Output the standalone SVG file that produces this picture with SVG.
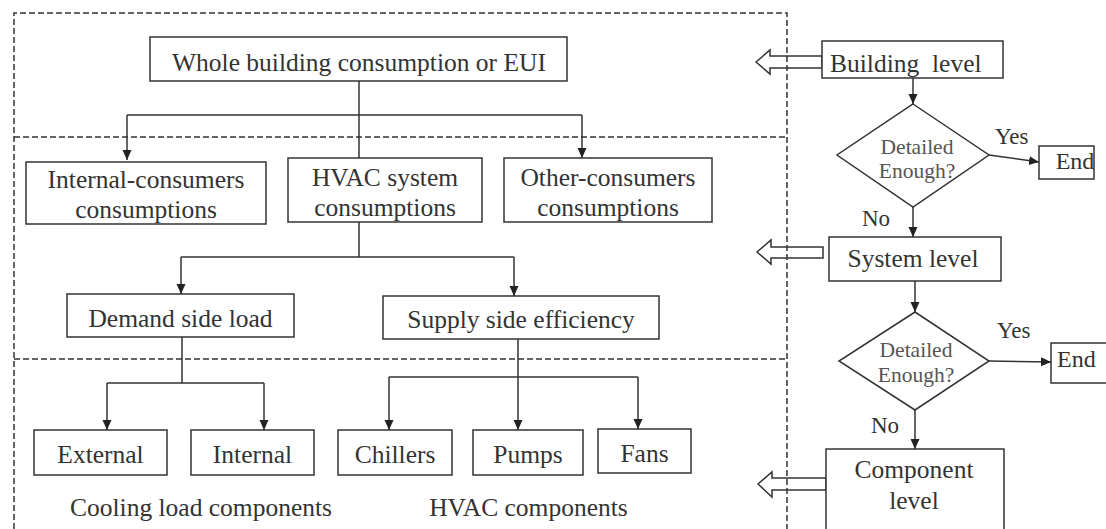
<svg xmlns="http://www.w3.org/2000/svg" width="1106" height="529" viewBox="0 0 1106 529">
<style>
.box{fill:#fff;stroke:#333;stroke-width:1.5}
.t{font-family:"Liberation Serif","Times New Roman",serif;font-size:25.5px;fill:#333;text-anchor:middle}
.s{font-family:"Liberation Serif","Times New Roman",serif;font-size:21.5px;fill:#555;text-anchor:middle}
.l{font-family:"Liberation Serif","Times New Roman",serif;font-size:23px;fill:#333}
.c{fill:none;stroke:#333;stroke-width:1.5}
.d{fill:none;stroke:#333;stroke-width:1.5;stroke-dasharray:6,3}
.h{fill:#fff;stroke:#333;stroke-width:1.5}
</style>
<defs>
<marker id="ah" markerUnits="userSpaceOnUse" markerWidth="10" markerHeight="10" refX="10" refY="5" orient="auto">
<path d="M0,0.5 L10,5 L0,9.5 z" fill="#222"/>
</marker>
</defs>
<rect width="1106" height="529" fill="#fff"/>

<g id="hollow-arrows">
<polygon class="h" points="756,62 770,50 770,56 822,56 822,68 770,68 770,74"/>
<polygon class="h" points="757,252 771,240 771,247 823,247 823,258 771,258 771,264"/>
<polygon class="h" points="758,484 772,472 772,478 826,478 826,490 772,490 772,497"/>
</g>

<g id="regions">
<path class="d" d="M14,529 V13 H787 V529"/>
<line class="d" x1="14" y1="137" x2="787" y2="137"/>
<line class="d" x1="14" y1="359" x2="787" y2="359"/>
</g>

<g id="connectors">
<path class="c" d="M359,81 V158"/>
<path class="c" d="M127,115 H582"/>
<path class="c" d="M127,115 V160" marker-end="url(#ah)"/>
<path class="c" d="M582,115 V158" marker-end="url(#ah)"/>
<path class="c" d="M359,222 V257 M181,257 H514"/>
<path class="c" d="M181,257 V294" marker-end="url(#ah)"/>
<path class="c" d="M514,257 V296" marker-end="url(#ah)"/>
<path class="c" d="M182,337 V383 M107,383 H264"/>
<path class="c" d="M107,383 V430" marker-end="url(#ah)"/>
<path class="c" d="M264,383 V430" marker-end="url(#ah)"/>
<path class="c" d="M389,377 H638"/>
<path class="c" d="M518,339 V430" marker-end="url(#ah)"/>
<path class="c" d="M389,377 V430" marker-end="url(#ah)"/>
<path class="c" d="M638,377 V429" marker-end="url(#ah)"/>
<path class="c" d="M913,78 V104" marker-end="url(#ah)"/>
<path class="c" d="M989,155 L1039,162" marker-end="url(#ah)"/>
<path class="c" d="M913,207 V237" marker-end="url(#ah)"/>
<path class="c" d="M915,281 V312" marker-end="url(#ah)"/>
<path class="c" d="M989,361 L1051,362" marker-end="url(#ah)"/>
<path class="c" d="M915,410 V449" marker-end="url(#ah)"/>
</g>

<g id="whole-building">
<rect class="box" x="150" y="37" width="417" height="44"/>
<text class="t" x="359" y="71">Whole building consumption or EUI</text>
</g>
<g id="internal-consumers">
<rect class="box" x="26" y="162" width="240" height="62"/>
<text class="t" x="146" y="188">Internal-consumers</text>
<text class="t" x="146" y="218">consumptions</text>
</g>
<g id="hvac-system">
<rect class="box" x="288" y="158" width="194" height="64"/>
<text class="t" x="385" y="186">HVAC system</text>
<text class="t" x="385" y="216">consumptions</text>
</g>
<g id="other-consumers">
<rect class="box" x="504" y="158" width="208" height="64"/>
<text class="t" x="608" y="186">Other-consumers</text>
<text class="t" x="608" y="216">consumptions</text>
</g>
<g id="demand-side">
<rect class="box" x="67" y="294" width="227" height="43"/>
<text class="t" x="180.5" y="327">Demand side load</text>
</g>
<g id="supply-side">
<rect class="box" x="383" y="296" width="276" height="43"/>
<text class="t" x="521" y="328">Supply side efficiency</text>
</g>
<g id="external">
<rect class="box" x="34" y="430" width="133" height="45"/>
<text class="t" x="100.5" y="463">External</text>
</g>
<g id="internal">
<rect class="box" x="191" y="430" width="123" height="45"/>
<text class="t" x="252.5" y="463">Internal</text>
</g>
<g id="chillers">
<rect class="box" x="338" y="430" width="114" height="45"/>
<text class="t" x="395" y="463">Chillers</text>
</g>
<g id="pumps">
<rect class="box" x="473" y="430" width="110" height="45"/>
<text class="t" x="528" y="463">Pumps</text>
</g>
<g id="fans">
<rect class="box" x="598" y="429" width="93" height="44"/>
<text class="t" x="644.5" y="462">Fans</text>
</g>
<g id="labels">
<text class="t" x="201" y="516">Cooling load components</text>
<text class="t" x="528.5" y="516">HVAC components</text>
</g>

<g id="building-level">
<rect class="box" x="822" y="41" width="181" height="37"/>
<text class="t" x="830" y="72" style="text-anchor:start" xml:space="preserve">Building  level</text>
</g>
<g id="decision-1">
<polygon class="box" points="913,104 989,155 913,207 837,155"/>
<text class="s" x="917" y="154">Detailed</text>
<text class="s" x="917" y="178">Enough?</text>
</g>
<g id="end-1">
<rect class="box" x="1039" y="146" width="55" height="33"/>
<text class="t" x="1075" y="169" style="font-size:24px">End</text>
</g>
<g id="system-level">
<rect class="box" x="829" y="237" width="172" height="44"/>
<text class="t" x="913" y="267">System level</text>
</g>
<g id="decision-2">
<polygon class="box" points="915,312 989,361 915,410 839,361"/>
<text class="s" x="916" y="357">Detailed</text>
<text class="s" x="916" y="382">Enough?</text>
</g>
<g id="end-2">
<rect class="box" x="1051" y="343" width="70" height="40"/>
<text class="t" x="1057" y="367" style="text-anchor:start;font-size:24px">End</text>
</g>
<g id="component-level">
<rect class="box" x="826" y="449" width="178" height="100"/>
<text class="t" x="914" y="478">Component</text>
<text class="t" x="914" y="509">level</text>
</g>
<g id="branch-labels">
<text class="l" x="995" y="144">Yes</text>
<text class="l" x="862" y="226">No</text>
<text class="l" x="997" y="338">Yes</text>
<text class="l" x="871" y="433">No</text>
</g>
</svg>
